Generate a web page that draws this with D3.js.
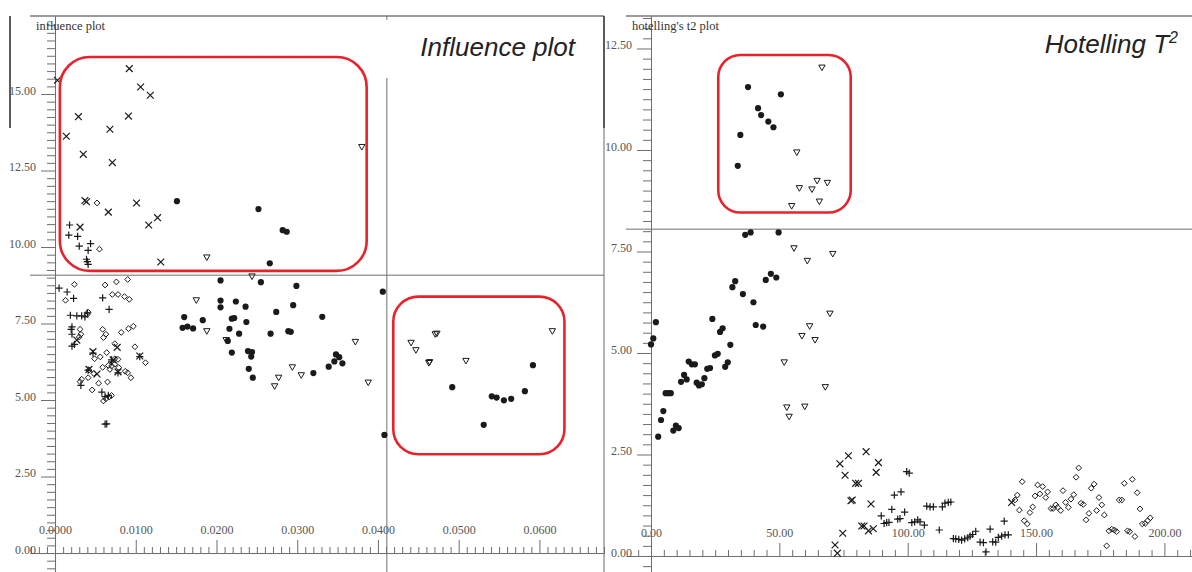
<!DOCTYPE html>
<html>
<head>
<meta charset="utf-8">
<script src="https://cdn.jsdelivr.net/npm/d3@7"></script>
<style>
  html, body { margin: 0; padding: 0; background: #fff; }
  svg { display: block; }
</style>
</head>
<body>
<svg id="chart" width="1192" height="572"></svg>
<script>
// ---------- Influence plot: [leverage, residual] per sample group ----------
const infCross = [
  [0.0003,15.45],[0.0014,13.62],[0.0029,14.26],[0.0035,13.03],[0.0037,11.52],[0.0039,11.48],
  [0.0031,10.65],[0.0068,13.85],[0.0071,12.76],[0.0066,11.14],[0.0092,15.83],[0.0091,14.28],
  [0.0106,15.23],[0.0118,14.96],[0.0101,11.44],[0.0127,10.96],[0.0116,10.72],[0.0131,9.51],
  [0.0027,6.96],[0.0042,6.00],[0.0052,5.85],[0.0077,6.72],[0.0047,6.58],[0.0072,6.31],
  [0.0105,6.44],[0.0078,5.92]
];
const infPlus = [
  [0.0018,10.72],[0.0017,10.39],[0.0028,10.35],[0.0030,10.03],[0.0044,10.11],[0.0041,9.89],
  [0.0039,9.60],[0.0041,9.43],[0.0040,9.52],
  [0.0005,8.66],[0.0015,8.53],[0.0023,8.32],[0.0059,8.34],[0.0067,7.96],[0.0019,7.77],
  [0.0027,7.75],[0.0033,7.75],[0.0037,7.72],[0.0021,7.39],[0.0020,7.31],[0.0021,7.15],
  [0.0021,6.76],[0.0024,6.82],[0.0047,6.53],[0.0041,5.98],[0.0032,5.48],[0.0070,6.31],
  [0.0105,6.42],[0.0058,5.26],[0.0062,5.11],[0.0066,5.15],[0.0062,4.21],[0.0064,4.22],
  [0.0078,5.89],[0.0070,6.25],[0.0040,7.85]
];
const infDiamond = [
  [0.0052,11.44],[0.0055,9.93],
  [0.0024,8.78],[0.0062,8.76],[0.0076,8.86],[0.0090,8.94],[0.0013,8.26],[0.0071,8.45],
  [0.0078,8.45],[0.0086,8.38],[0.0092,8.29],[0.0041,7.87],[0.0040,7.80],[0.0031,7.31],
  [0.0032,7.15],[0.0030,7.06],[0.0059,7.31],[0.0063,7.15],[0.0060,7.04],[0.0082,7.21],
  [0.0091,7.33],[0.0097,7.41],[0.0074,6.84],[0.0099,6.74],[0.0064,6.55],[0.0049,6.35],
  [0.0056,6.41],[0.0074,6.35],[0.0078,6.33],[0.0066,6.13],[0.0059,6.07],[0.0070,6.11],
  [0.0079,6.06],[0.0074,6.17],[0.0112,6.22],[0.0042,5.98],[0.0048,5.87],[0.0068,6.00],
  [0.0087,5.94],[0.0033,5.68],[0.0031,5.60],[0.0041,5.73],[0.0054,5.55],[0.0065,5.59],
  [0.0046,5.33],[0.0094,5.73],[0.0090,5.89],[0.0060,4.97],[0.0063,5.04],[0.0067,5.10],
  [0.0070,5.15]
];
const infCircle = [
  [0.0151,11.50],[0.0252,11.24],[0.0282,10.55],[0.0287,10.50],[0.0266,9.47],
  [0.0205,8.91],[0.0255,8.85],[0.0299,8.73],[0.0406,8.54],[0.0205,8.25],[0.0205,8.03],
  [0.0224,8.22],[0.0236,8.05],[0.0274,7.88],[0.0295,8.10],[0.0331,7.72],[0.0160,7.71],
  [0.0183,7.61],[0.0219,7.66],[0.0222,7.68],[0.0237,7.55],[0.0158,7.36],[0.0164,7.40],
  [0.0171,7.34],[0.0216,7.33],[0.0228,7.17],[0.0267,7.17],[0.0289,7.25],[0.0292,7.23],
  [0.0214,6.93],[0.0219,6.55],[0.0239,6.60],[0.0244,6.57],[0.0243,6.42],[0.0240,6.02],
  [0.0245,5.73],[0.0348,6.49],[0.0352,6.40],[0.0346,6.26],[0.0356,6.20],[0.0339,6.09],
  [0.0320,5.88],[0.0408,3.86],
  [0.0492,5.42],[0.0531,4.19],[0.0541,5.12],[0.0547,5.08],[0.0556,4.99],[0.0565,5.04],
  [0.0582,5.29],[0.0592,6.14]
];
const infTriangle = [
  [0.0188,9.66],[0.0380,13.27],[0.0244,9.04],[0.0175,8.26],[0.0188,7.25],[0.0212,6.96],
  [0.0294,6.07],[0.0277,5.73],[0.0272,5.45],[0.0305,5.81],[0.0372,6.90],[0.0388,5.57],
  [0.0441,6.87],[0.0447,6.63],[0.0471,7.15],[0.0473,7.17],[0.0463,6.21],[0.0464,6.24],
  [0.0509,6.28],[0.0616,7.25]
];
const infLeverageTicks = [0, 0.01, 0.02, 0.03, 0.04, 0.05, 0.06];
const infResidualTicks = [0, 2.5, 5, 7.5, 10, 12.5, 15];
const infResidualLimit = 9.08;
const infLeverageLimit = 0.0411;
const infHighlights = [
  { x0: 0.0006, x1: 0.0386, y0: 9.22, y1: 16.21, r: 30 },
  { x0: 0.0419, x1: 0.0631, y0: 3.23, y1: 8.38, r: 25 }
];

// ---------- Hotelling T2 plot: [sample number, T2] per sample group ----------
const t2Circle = [
  [0,5.21],[0.9,5.36],[1.9,5.76],[2.8,2.94],[3.9,3.35],[4.8,3.57],[5.7,4.01],[6.7,4.01],
  [7.7,4.01],[8.7,3.09],[9.7,3.21],[10.8,3.15],[11.7,4.29],[12.9,4.46],[13.9,4.35],
  [14.7,4.79],[15.9,4.72],[17.1,4.72],[17.8,4.27],[18.7,4.20],[19.8,4.23],[20.8,4.38],
  [21.9,4.61],[23.0,4.63],[23.9,5.84],[24.9,4.94],[26.0,4.98],[26.9,5.52],[27.9,5.61],
  [28.9,4.66],[29.9,4.77],[30.9,5.20],[31.7,6.62],[32.8,6.77],[33.8,9.61],[34.8,10.37],
  [35.8,6.45],[36.7,7.91],[37.8,11.55],[38.8,7.97],[39.9,6.25],[40.8,5.69],[41.7,11.03],
  [42.9,10.86],[43.7,5.65],[44.7,6.80],[45.7,10.70],[46.7,6.95],[47.7,10.56],[48.8,6.86],
  [49.7,7.97],[50.6,11.37]
];
const t2Triangle = [
  [51.9,4.77],[52.9,3.66],[53.8,3.43],[54.8,8.62],[55.7,7.58],[56.8,9.94],[57.8,9.06],
  [58.8,5.42],[59.9,3.68],[60.9,7.27],[61.8,5.66],[62.7,9.03],[63.9,5.32],[64.7,9.24],
  [65.6,8.73],[66.6,12.03],[67.9,4.16],[68.7,9.19],[69.7,5.97],[70.8,7.44]
];
const t2Cross = [
  [71.7,0.27],[72.6,0.07],[73.6,2.27],[74.7,0.56],[75.6,1.99],[76.9,2.47],[77.9,1.36],
  [78.4,1.38],[79.7,1.79],[80.8,1.79],[82.1,0.74],[83.0,0.74],[83.8,2.57],[84.7,0.62],
  [85.7,1.28],[86.6,0.67],[87.7,2.06],[88.6,2.30],[140.5,1.32]
];
const t2Plus = [
  [89.7,0.99],[90.8,0.80],[91.8,0.82],[92.7,0.83],[93.8,1.15],[94.8,1.50],[96.1,0.91],
  [97.0,0.92],[97.4,1.58],[98.8,1.08],[99.6,2.08],[100.6,2.04],[101.6,0.82],[102.7,0.84],
  [103.9,0.89],[104.8,0.84],[106.5,0.76],[107.4,1.23],[108.7,1.21],[110.0,1.21],[112.3,0.64],
  [113.5,1.21],[114.5,1.30],[115.8,1.32],[116.8,1.33],[117.8,0.43],[118.7,0.42],[119.9,0.41],
  [121.0,0.39],[122.2,0.42],[123.4,0.45],[124.3,0.49],[125.3,0.53],[126.5,0.61],[128.2,0.34],
  [129.5,0.33],[130.5,0.10],[132.1,0.66],[133.1,0.35],[134.3,0.34],[135.3,0.46],[136.6,0.49],
  [137.6,0.86],[137.9,0.52],[139.2,0.52]
];
const t2Diamond = [
  [141.8,1.38],[142.7,1.50],[143.5,1.13],[144.6,1.83],[145.4,0.87],[146.6,0.79],[147.6,1.07],
  [148.7,1.21],[149.6,1.48],[150.6,1.75],[151.5,1.53],[152.6,1.71],[153.8,1.44],[154.5,1.58],
  [155.8,1.17],[156.7,1.17],[157.7,1.26],[158.4,1.20],[159.6,1.12],[160.5,1.61],[161.5,1.32],
  [162.6,1.20],[163.6,1.40],[164.7,1.51],[165.6,1.94],[166.6,2.17],[167.5,1.30],[168.4,1.27],
  [169.5,0.89],[170.6,1.05],[171.5,1.67],[172.6,1.77],[173.6,1.12],[174.5,1.44],[175.6,1.26],
  [176.6,1.01],[177.5,0.25],[178.4,0.62],[179.5,0.66],[180.5,0.64],[181.4,0.60],[182.4,1.38],
  [183.4,1.38],[184.4,1.79],[185.6,0.62],[186.5,0.60],[187.5,1.89],[188.5,0.48],[189.4,1.56],
  [190.5,1.16],[191.4,0.79],[192.5,0.80],[193.5,0.87],[194.5,0.94]
];
const t2SampleTicks = [0, 50, 100, 150, 200];
const t2ValueTicks = [0, 2.5, 5, 7.5, 10, 12.5];
const t2Limit = 8.05;
const t2Highlights = [
  { x0: 26.2, x1: 77.8, y0: 8.46, y1: 12.34, r: 22 }
];

// ---------- drawing ----------
const svg = d3.select("#chart");
const AXIS = "#6e6e6e";
const INK = "#1a1a1a";
const RED = "#e8222b";
const SERIF = "'Liberation Serif', 'DejaVu Serif', serif";
const SANS = "'Liberation Sans', Arial, sans-serif";

const shapes = {
  cross: "M-3.4,-3.4L3.4,3.4M-3.4,3.4L3.4,-3.4",
  plus: "M-3.6,0H3.6M0,-3.6V3.6",
  diamond: "M0,-2.9L2.9,0L0,2.9L-2.9,0Z",
  triangle: "M-3.2,-2.5H3.2L0,3.1Z"
};

function styleAxis(sel) {
  sel.selectAll(".domain").attr("stroke", AXIS).attr("stroke-width", 1);
  sel.selectAll(".tick line").attr("stroke", AXIS).attr("stroke-width", 1);
  sel.selectAll("text").attr("fill", "#555").attr("font-family", SERIF).attr("font-size", 12);
  sel.attr("font-family", SERIF);
}

function drawPanel(p) {
  const g = svg.append("g");
  const [xa, xb] = p.x.range();
  const [ya, yb] = p.y.range(); // ya bottom, yb top

  // top frame line
  g.append("line").attr("x1", xa).attr("x2", xb).attr("y1", yb).attr("y2", yb)
    .attr("stroke", "#7a7a7a").attr("stroke-width", 1.6);
  // left edge bar
  g.append("line").attr("x1", p.barX).attr("x2", p.barX).attr("y1", yb).attr("y2", 128)
    .attr("stroke", "#333").attr("stroke-width", 1.6);

  // limit lines
  g.append("line").attr("x1", xa).attr("x2", xb)
    .attr("y1", p.y(p.yLimit)).attr("y2", p.y(p.yLimit))
    .attr("stroke", "#707070").attr("stroke-width", 1);
  if (p.xLimit != null) {
    g.append("line").attr("x1", p.x(p.xLimit)).attr("x2", p.x(p.xLimit))
      .attr("y1", yb).attr("y2", ya)
      .attr("stroke", "#707070").attr("stroke-width", 1);
  }

  // x axis (ticks and labels above the zero line)
  const y0 = p.y(0);
  const xMinor = g.append("g").attr("transform", `translate(0,${y0})`)
    .call(d3.axisTop(p.x).tickValues(p.xMinor).tickSize(6).tickFormat("").tickSizeOuter(0));
  styleAxis(xMinor);
  const xMajor = g.append("g").attr("transform", `translate(0,${y0})`)
    .call(d3.axisTop(p.x).tickValues(p.xTicks).tickSize(13).tickPadding(6)
      .tickFormat(d3.format(p.xFmt)).tickSizeOuter(0));
  styleAxis(xMajor);

  // y axis
  const x0 = p.x(0);
  const yMinor = g.append("g").attr("transform", `translate(${x0},0)`)
    .call(d3.axisLeft(p.y).tickValues(p.yMinor).tickSize(8).tickFormat("").tickSizeOuter(0));
  styleAxis(yMinor);
  const yMajor = g.append("g").attr("transform", `translate(${x0},0)`)
    .call(d3.axisLeft(p.y).tickValues(p.yTicks).tickSize(14).tickPadding(5)
      .tickFormat(d3.format(".2f")).tickSizeOuter(0));
  styleAxis(yMajor);
  yMajor.selectAll("text").attr("dy", "0.02em");

  // small caption
  g.append("text").attr("x", p.captionX).attr("y", 30)
    .attr("font-family", SERIF).attr("font-size", 12.5).attr("fill", "#333")
    .text(p.caption);

  // points
  const pts = g.append("g");
  pts.selectAll("circle").data(p.circle).join("circle")
    .attr("cx", d => p.x(d[0])).attr("cy", d => p.y(d[1])).attr("r", 3.1)
    .attr("fill", INK);
  const groups = [["cross", p.cross], ["plus", p.plus], ["diamond", p.diamond], ["triangle", p.triangle]];
  groups.forEach(([kind, data]) => {
    pts.append("g").selectAll("path").data(data).join("path")
      .attr("transform", d => `translate(${p.x(d[0])},${p.y(d[1])})`)
      .attr("d", shapes[kind])
      .attr("fill", "none").attr("stroke", INK)
      .attr("stroke-width", kind === "cross" || kind === "plus" ? 1.2 : 1);
  });

  // highlighted regions
  g.append("g").selectAll("rect").data(p.highlights).join("rect")
    .attr("x", d => p.x(d.x0)).attr("y", d => p.y(d.y1))
    .attr("width", d => p.x(d.x1) - p.x(d.x0))
    .attr("height", d => p.y(d.y0) - p.y(d.y1))
    .attr("rx", d => d.r).attr("ry", d => d.r)
    .attr("fill", "none").attr("stroke", RED).attr("stroke-width", 2.6);

  return g;
}

// left panel: influence plot
const xInf = d3.scaleLinear().domain([-0.0031, 0.0680]).range([30, 604]);
const yInf = d3.scaleLinear().domain([-0.62, 17.55]).range([572, 16]);
const left = drawPanel({
  x: xInf, y: yInf, barX: 10, captionX: 36, caption: "influence plot",
  xTicks: infLeverageTicks, xFmt: ".4f",
  xMinor: d3.range(-3, 69).filter(i => i % 10 !== 0).map(i => i / 1000),
  yTicks: infResidualTicks,
  yMinor: d3.range(-2, 71).filter(i => i % 10 !== 0).map(i => i * 0.25),
  yLimit: infResidualLimit, xLimit: infLeverageLimit,
  circle: infCircle, cross: infCross, plus: infPlus, diamond: infDiamond, triangle: infTriangle,
  highlights: infHighlights
});

// title with its own white backing
left.append("rect").attr("x", 383).attr("y", 20).attr("width", 218).attr("height", 58).attr("fill", "#fff");
left.append("text").attr("x", 575).attr("y", 56).attr("text-anchor", "end")
  .attr("font-family", SANS).attr("font-style", "italic").attr("font-size", 26)
  .attr("fill", "#222").text("Influence plot");

// right panel: Hotelling T2
const xT2 = d3.scaleLinear().domain([-9.74, 210.75]).range([626, 1192]);
const yT2 = d3.scaleLinear().domain([-0.394, 13.30]).range([572, 16]);
const right = drawPanel({
  x: xT2, y: yT2, barX: 604, captionX: 632, caption: "hotelling's t2 plot",
  xTicks: t2SampleTicks, xFmt: ".2f",
  xMinor: d3.range(-1, 43).filter(i => i % 10 !== 0).map(i => i * 5),
  yTicks: t2ValueTicks,
  yMinor: d3.range(-1, 54).filter(i => i % 10 !== 0).map(i => i * 0.25),
  yLimit: t2Limit, xLimit: null,
  circle: t2Circle, cross: t2Cross, plus: t2Plus, diamond: t2Diamond, triangle: t2Triangle,
  highlights: t2Highlights
});

// boundary line between the panels
svg.append("line").attr("x1", 604).attr("x2", 604).attr("y1", 128).attr("y2", 572)
  .attr("stroke", "#6a6a6a").attr("stroke-width", 1);

const t2Title = right.append("text").attr("x", 1178).attr("y", 53).attr("text-anchor", "end")
  .attr("font-family", SANS).attr("font-style", "italic").attr("font-size", 26).attr("fill", "#222");
t2Title.append("tspan").text("Hotelling T");
t2Title.append("tspan").attr("font-size", 16).attr("dy", -10).text("2");
</script>
</body>
</html>
